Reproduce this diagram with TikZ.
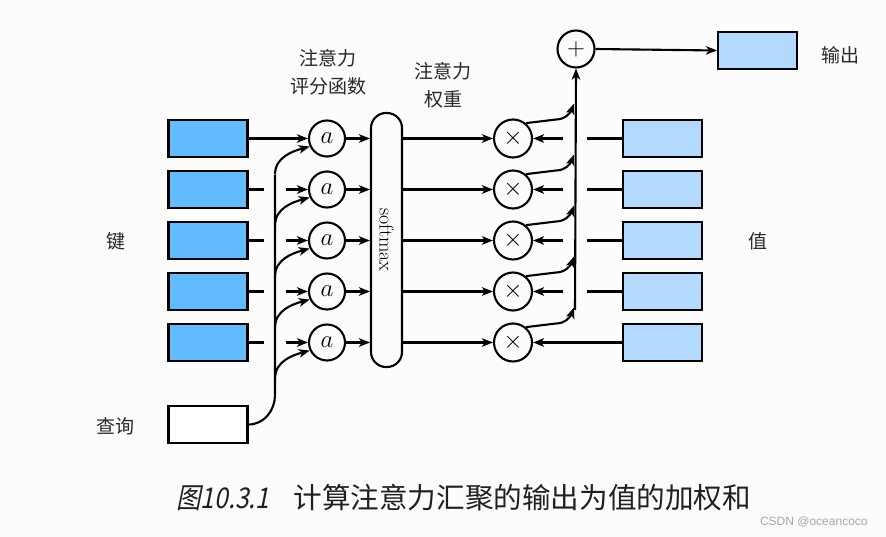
\documentclass[tikz,border=0pt]{standalone}
\usepackage{fontspec}
\usetikzlibrary{arrows.meta}
\newfontfamily\cjk{Noto Sans CJK SC}
\newfontfamily\cjkit[FakeSlant=0.2,FakeStretch=0.86]{Noto Sans CJK SC}
\newfontfamily\wmfont{Liberation Sans}
\definecolor{keyblue}{RGB}{99,187,255}
\definecolor{valblue}{RGB}{179,217,255}
\definecolor{bgc}{RGB}{252,252,252}
\definecolor{txt}{RGB}{40,40,40}
\begin{document}
\begin{tikzpicture}[x=1pt,y=-1pt,
  line width=2.1pt,
  arr/.style={-{Stealth[length=11pt,width=8.5pt,inset=3pt]}},
  keybox/.style={draw,fill=keyblue,minimum width=79pt,minimum height=37pt,inner sep=0pt},
  valbox/.style={draw,fill=valblue,minimum width=79pt,minimum height=37pt,inner sep=0pt},
  qbox/.style={draw,fill=white,minimum width=79pt,minimum height=37pt,inner sep=0pt},
  anode/.style={draw,circle,minimum size=36pt,inner sep=0pt,font=\fontsize{25}{26}\selectfont},
  xnode/.style={draw,circle,minimum size=38pt,inner sep=0pt,font=\fontsize{25}{26}\selectfont},
  lbl/.style={text=txt,font=\cjk\fontsize{19}{28}\selectfont,align=center}]
\fill[bgc] (0,0) rectangle (886,537);
\useasboundingbox (0,0) rectangle (886,537);

\foreach \i/\y in {1/138.5,2/189.5,3/240.5,4/291.5,5/342.5}{
  \node[keybox] (k\i) at (208,\y) {};
  \node[anode] (a\i) at (327,\y) {$a$};
  \node[xnode] (x\i) at (513,\y) {$\times$};
  \node[valbox] (v\i) at (662.5,\y) {};
}
\node[qbox] (q) at (208,424.5) {};
\node[draw,rounded corners=15pt,minimum width=31pt,minimum height=254pt,inner sep=0pt] (sm) at (386.5,240) {};
\node[rotate=-90,font=\fontsize{20}{20}\selectfont] (smt) at (sm.center) {softmax};
\node[xnode,minimum size=37pt] (plus) at (576,49) {$+$};
\node[valbox] (out) at (757.5,50.5) {};

% labels
\node[lbl] (lk) at (116,241) {键};
\node[lbl] (lv) at (758,241) {值};
\node[lbl] (lq) at (115,426) {查询};
\node[lbl] (lo) at (840,55) {输出};
\node[lbl] (ls) at (328,72) {注意力\\评分函数};
\node[lbl] (lw) at (443,85) {注意力\\权重};
\node[text=txt!80!black,font=\fontsize{28.6}{30}\selectfont,anchor=west] (cap) at (172,498) {{\cjkit 图10.3.1}\hspace{0.85em}{\cjk 计算注意力汇聚的输出为值的加权和}};
\node[text=gray!70,font=\wmfont\fontsize{12}{14}\selectfont,anchor=east] (wm) at (872,522) {CSDN @oceancoco};

% keys to a
\draw[arr] (k1.east) -- (a1.west);
\foreach \i in {2,3,4,5}{
  \draw (k\i.east) -- ++(15,0);
  \draw[arr] ([xshift=-22pt]a\i.west) -- (a\i.west);
}
% query
\coordinate (qv) at (275,395);
\draw (q.east) to[out=0,in=-90] (qv) -- (275,175);
\foreach \i/\y in {1/138.5,2/189.5,3/240.5,4/291.5,5/342.5}{
  \draw[arr] (275,\y+36) to[out=90,in=195] (a\i.205);
}
% a to softmax, softmax to x
\foreach \i in {1,...,5}{
  \draw[arr] (a\i.east) -- (sm.west |- a\i.east);
  \draw[arr] (sm.east |- x\i.west) -- (x\i.west);
}
% values to x
\foreach \i in {1,2,3,4}{
  \draw (v\i.west) -- ++(-35,0);
  \draw[arr] ([xshift=30pt]x\i.east) -- (x\i.east);
}
\draw[arr] (v5.west) -- (x5.east);
% x to sum
\coordinate (sb) at (575,310);
\draw[arr] (sb) -- (plus.south);
\foreach \i/\y in {1/138.5,2/189.5,3/240.5,4/291.5,5/342.5}{
  \draw[arr] (x\i.50) -- (556,\y-19) to[out=0,in=-110] (574,\y-35);
}
\draw[arr] (plus.east) -- (out.west);
\end{tikzpicture}
\end{document}
